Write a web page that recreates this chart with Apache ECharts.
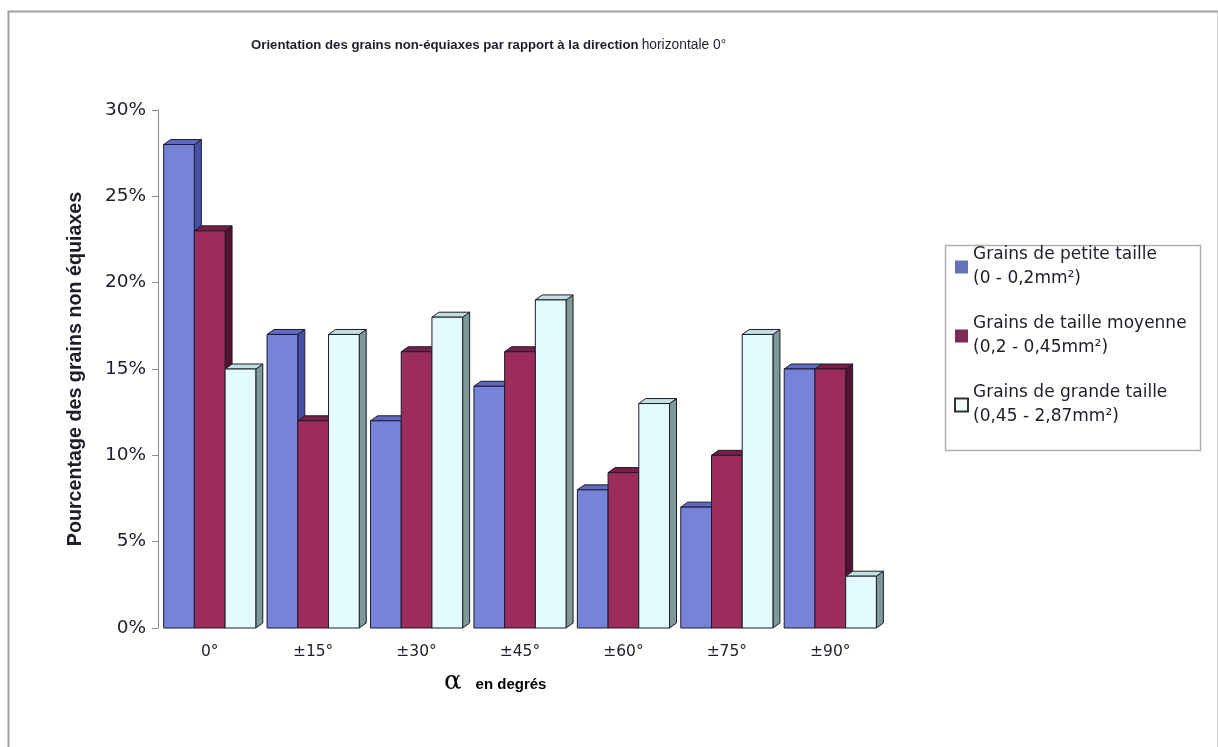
<!DOCTYPE html>
<html>
<head>
<meta charset="utf-8">
<script src="https://cdn.jsdelivr.net/npm/echarts@6/dist/echarts.min.js"></script>
<style>
html,body{margin:0;padding:0;background:#fff;}
#chart{width:1218px;height:747px;}
</style>
</head>
<body>
<div id="chart"></div>
<script>
// ---- data ----
var categories = ['0°', '±15°', '±30°', '±45°', '±60°', '±75°', '±90°'];
var seriesNames = [
  'Grains de petite taille\n(0 - 0,2mm²)',
  'Grains de taille moyenne\n(0,2 - 0,45mm²)',
  'Grains de grande taille\n(0,45 - 2,87mm²)'
];
var petite  = [28, 17, 12, 14, 8, 7, 15];
var moyenne = [23, 12, 16, 16, 9, 10, 15];
var grande  = [15, 17, 18, 19, 13, 17, 3];
var yTicks = [0, 5, 10, 15, 20, 25, 30];

// ---- styles ----
var faces = [
  {front: '#7683d8', top: '#5d69c2', side: '#4652a8', legend: '#6672b8'},
  {front: '#9c2c5d', top: '#7a1d47', side: '#561030', legend: '#7c2a52'},
  {front: '#e4fbfb', top: '#c3e0e0', side: '#7f9898', legend: '#f4fdfd'}
];
var DX = 7, DY = 5, BAR_FRAC = 0.297;
var TXT = '#1e1e2a';

function makeRender(si) {
  return function (params, api) {
    var ci = api.value(0), v = api.value(1);
    var base = api.coord([ci, 0]);
    var top = api.coord([ci, v]);
    var bw = api.size([1, 0])[0] * BAR_FRAC;
    var x0 = base[0] - 1.5 * bw + si * bw, x1 = x0 + bw;
    var yb = base[1], yt = top[1];
    var f = faces[si];
    var stroke = {stroke: '#1c1c2c', lineWidth: 1, lineJoin: 'round'};
    return {
      type: 'group',
      children: [
        {type: 'polygon', shape: {points: [[x1, yt], [x1 + DX, yt - DY], [x1 + DX, yb - DY], [x1, yb]]},
         style: Object.assign({fill: f.side}, stroke)},
        {type: 'polygon', shape: {points: [[x0, yt], [x0 + DX, yt - DY], [x1 + DX, yt - DY], [x1, yt]]},
         style: Object.assign({fill: f.top}, stroke)},
        {type: 'rect', shape: {x: x0, y: yt, width: bw, height: yb - yt},
         style: Object.assign({fill: f.front}, stroke)}
      ]
    };
  };
}

var datasets = [petite, moyenne, grande];
var series = datasets.map(function (arr, si) {
  return {
    name: seriesNames[si],
    type: 'custom',
    renderItem: makeRender(si),
    encode: {x: 0, y: 1},
    itemStyle: {color: faces[si].legend, borderColor: '#333', borderWidth: si === 2 ? 1 : 0},
    data: arr.map(function (v, i) { return [i, v]; }),
    z: 2 + si
  };
});

var chart = echarts.init(document.getElementById('chart'), null, {renderer: 'canvas'});
chart.setOption({
  backgroundColor: '#fff',
  animation: false,
  title: {
    left: 246, top: 33,
    text: '{b|Orientation des grains non-équiaxes par rapport à la direction}{r|horizontale 0°}',
    textStyle: {
      rich: {
        b: {fontFamily: 'Liberation Sans, Arial', fontWeight: 'bold', fontSize: 13.2, color: TXT},
        r: {fontFamily: 'Liberation Sans, Arial', fontWeight: 'normal', fontSize: 13.8, color: TXT, padding: [0, 0, 0, 3]}
      }
    }
  },
  legend: {
    orient: 'vertical',
    left: 954, top: 231,
    padding: 0,
    itemWidth: 13, itemHeight: 13,
    itemGap: -3,
    icon: 'rect',
    textStyle: {fontFamily: 'DejaVu Sans', fontSize: 17, lineHeight: 24, color: TXT, padding: [24, 0, 0, 0]},
    data: seriesNames
  },
  grid: {left: 158, right: 336, top: 110, bottom: 119, containLabel: false},
  xAxis: {
    type: 'category',
    data: categories,
    axisLine: {show: false},
    axisTick: {show: false},
    axisLabel: {margin: 16, fontFamily: 'DejaVu Sans', fontSize: 15.5, color: TXT},
    splitLine: {show: false}
  },
  yAxis: {
    type: 'value',
    min: yTicks[0], max: yTicks[yTicks.length - 1], interval: 5,
    name: 'Pourcentage des grains non équiaxes',
    nameLocation: 'middle',
    nameGap: 72,
    nameTextStyle: {fontFamily: 'Liberation Sans, Arial', fontWeight: 'bold', fontSize: 19.7, color: TXT},
    axisLine: {show: true, lineStyle: {color: '#8a8a8a', width: 1}},
    axisTick: {show: true, length: 6, lineStyle: {color: '#8a8a8a'}},
    axisLabel: {margin: 12, fontFamily: 'DejaVu Sans', fontSize: 18.5, color: TXT, formatter: '{value}%'},
    splitLine: {show: false}
  },
  graphic: [
    {type: 'rect', left: 6, top: 9, shape: {width: 1210, height: 760}, silent: true,
     style: {fill: null, stroke: '#a0a0a0', lineWidth: 2}, z: -1},
    {type: 'rect', left: 943, top: 243, shape: {width: 255, height: 205}, silent: true,
     style: {fill: null, stroke: '#b0b0b0', lineWidth: 1.5}, z: -1},
    {type: 'text', left: 444, top: 669, silent: true,
     style: {
       text: '{a|α}{b|en degrés}',
       rich: {
         a: {fontFamily: 'DejaVu Serif, Liberation Serif', fontSize: 26, color: '#2a2a40', verticalAlign: 'middle'},
         b: {fontFamily: 'Liberation Sans, Arial', fontWeight: 'bold', fontSize: 15, color: TXT, verticalAlign: 'middle', padding: [6, 0, 0, 14]}
       }
     }}
  ],
  series: series
});
</script>
</body>
</html>
